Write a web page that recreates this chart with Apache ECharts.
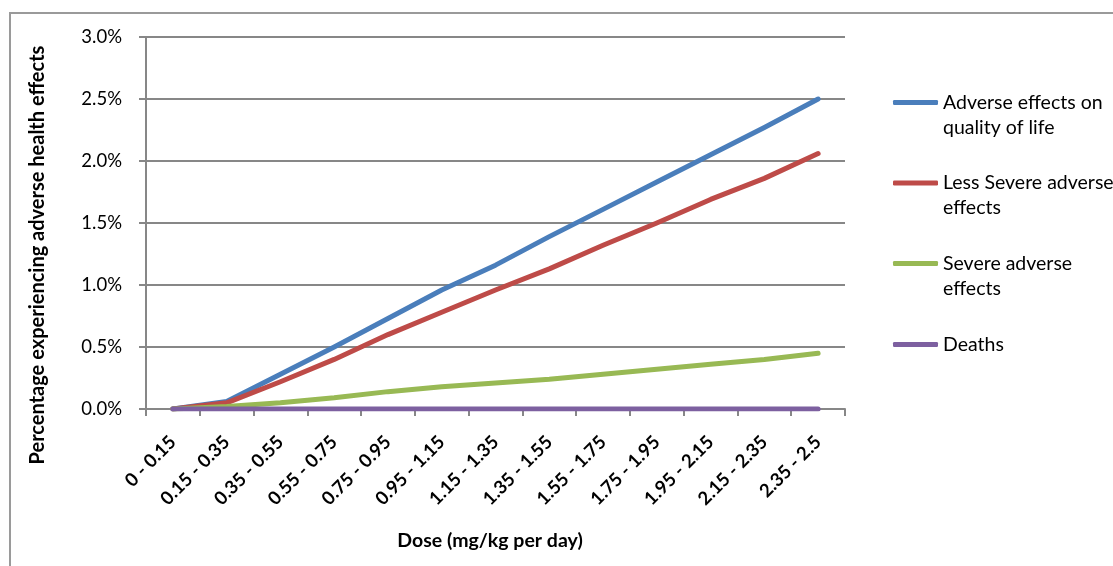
<!DOCTYPE html>
<html>
<head>
<meta charset="utf-8">
<script src="https://cdn.jsdelivr.net/npm/echarts@6/dist/echarts.min.js"></script>
<style>
  html, body { margin: 0; padding: 0; background: #fff; }
  #chart { width: 1113px; height: 566px; }
</style>
</head>
<body>
<div id="chart"></div>
<script>
const categories = ['0 - 0.15', '0.15 - 0.35', '0.35 - 0.55', '0.55 - 0.75', '0.75 - 0.95', '0.95 - 1.15', '1.15 - 1.35', '1.35 - 1.55', '1.55 - 1.75', '1.75 - 1.95', '1.95 - 2.15', '2.15 - 2.35', '2.35 - 2.5'];
const qualityOfLife = [0, 0.06, 0.28, 0.50, 0.73, 0.96, 1.16, 1.39, 1.61, 1.83, 2.05, 2.27, 2.50];
const lessSevere   = [0, 0.05, 0.22, 0.40, 0.60, 0.78, 0.96, 1.13, 1.32, 1.50, 1.69, 1.86, 2.06];
const severe       = [0, 0.02, 0.05, 0.09, 0.14, 0.18, 0.21, 0.24, 0.28, 0.32, 0.36, 0.40, 0.45];
const deaths       = [0, 0, 0, 0, 0, 0, 0, 0, 0, 0, 0, 0, 0];
const seriesNames = ['Adverse effects on quality of life', 'Less Severe adverse effects', 'Severe adverse effects', 'Deaths'];
const legendLabels = ['Adverse effects on\nquality of life', 'Less Severe adverse\neffects', 'Severe adverse\neffects', 'Deaths'];
const colors = ['#4a7ebb', '#be4b48', '#98b954', '#7d60a0'];
const yTicks = { min: 0, max: 3, interval: 0.5 };
const yTitle = 'Percentage experiencing adverse health effects';
const xTitle = 'Dose (mg/kg per day)';

const FONT = 'Lato';
const GRAY = '#878787';
const chart = echarts.init(document.getElementById('chart'), null, { renderer: 'canvas' });

const values = [qualityOfLife, lessSevere, severe, deaths];
const lineH = 25;
const iconCenters = [102.5, 183, 263.5, 344.5];

const legends = seriesNames.map((name, i) => {
  const multi = legendLabels[i].indexOf('\n') >= 0;
  return {
    data: [name],
    left: 893,
    top: multi ? iconCenters[i] - 1.5 * lineH : iconCenters[i] - 0.5 * lineH,
    padding: 0,
    orient: 'vertical',
    itemWidth: 45,
    itemHeight: 5,
    icon: 'roundRect',
    selectedMode: false,
    formatter: () => multi ? '\n' + legendLabels[i] : legendLabels[i],
    textStyle: { fontFamily: FONT, fontSize: 19.5, color: '#000', lineHeight: lineH }
  };
});

const option = {
  animation: false,
  color: colors,
  legend: legends,
  grid: { left: 146, right: 268, top: 37, bottom: 157, containLabel: false },
  xAxis: {
    type: 'category',
    data: categories,
    boundaryGap: true,
    axisLine: { lineStyle: { color: GRAY, width: 2 } },
    axisTick: { show: true, length: 7, lineStyle: { color: GRAY, width: 2 } },
    axisLabel: { rotate: 45, interval: 0, margin: 30, fontFamily: FONT, fontWeight: 'bold', fontSize: 18.5, color: '#000' },
    name: xTitle,
    nameLocation: 'middle',
    nameGap: 122,
    nameTextStyle: { fontFamily: FONT, fontWeight: 'bold', fontSize: 19.5, color: '#000', padding: [0, 0, 0, -11] }
  },
  yAxis: {
    type: 'value',
    min: yTicks.min,
    max: yTicks.max,
    interval: yTicks.interval,
    axisLine: { show: true, lineStyle: { color: GRAY, width: 2 } },
    axisTick: { show: true, length: 7, lineStyle: { color: GRAY, width: 2 } },
    splitLine: { show: true, lineStyle: { color: GRAY, width: 2 } },
    axisLabel: { margin: 24, fontFamily: FONT, fontSize: 18.5, color: '#000', formatter: v => v.toFixed(1) + '%' }
  },
  graphic: [
    { type: 'rect', shape: { x: 10, y: 13, width: 1200, height: 700 }, style: { fill: 'none', stroke: '#9a9a9a', lineWidth: 2 }, z: -10, silent: true },
    { type: 'text', x: 37.5, y: 255, rotation: Math.PI / 2,
      style: { text: yTitle, fontFamily: FONT, fontWeight: 'bold', fontSize: 20, fill: '#000', align: 'center', verticalAlign: 'middle' } }
  ],
  series: values.map((d, i) => ({
    name: seriesNames[i],
    type: 'line',
    data: d,
    showSymbol: false,
    symbol: 'none',
    lineStyle: { width: 5, color: colors[i], cap: 'round', join: 'round' },
    itemStyle: { color: colors[i] }
  }))
};
chart.setOption(option);
</script>
</body>
</html>
